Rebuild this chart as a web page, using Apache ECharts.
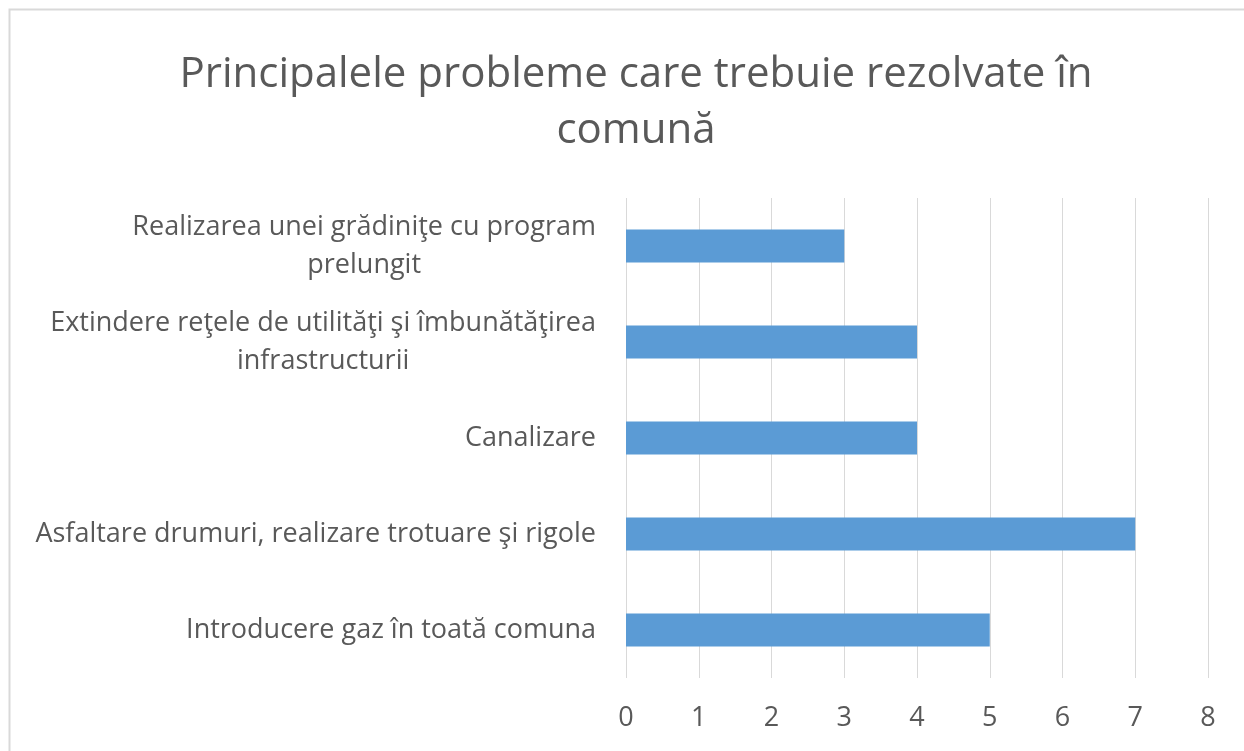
<!DOCTYPE html>
<html>
<head>
<meta charset="utf-8">
<script src="https://cdn.jsdelivr.net/npm/echarts@6/dist/echarts.min.js"></script>
<style>
  html, body { margin: 0; padding: 0; background: #fff; }
  #chart { width: 1244px; height: 751px; }
</style>
</head>
<body>
<div id="chart"></div>
<script>
// categories from bottom to top (as the axis draws them)
const categories = [
  'Introducere gaz în toată comuna',
  'Asfaltare drumuri, realizare trotuare şi rigole',
  'Canalizare',
  'Extindere reţele de utilităţi şi îmbunătăţirea\ninfrastructurii',
  'Realizarea unei grădiniţe cu program\nprelungit'
];
const values = [5, 7, 4, 4, 3];
const xTicks = [0, 1, 2, 3, 4, 5, 6, 7, 8];

const chart = echarts.init(document.getElementById('chart'));
const textColor = '#595959';
const fontFamily = '"Open Sans", "Noto Sans", sans-serif';

const option = {
  animation: false,
  graphic: [
    {
      type: 'rect',
      shape: { x: 9.5, y: 9.5, width: 1300, height: 800 },
      style: { fill: 'none', stroke: '#d9d9d9', lineWidth: 2 },
      silent: true
    }
  ],
  title: {
    text: 'Principalele probleme care trebuie rezolvate în\ncomună',
    left: 631,
    top: 42,
    textAlign: 'center',
    textStyle: {
      color: textColor,
      fontFamily: fontFamily,
      fontWeight: 'normal',
      fontSize: 42,
      lineHeight: 56
    }
  },
  grid: {
    left: 626,
    right: 36,
    top: 198,
    bottom: 73,
    containLabel: false
  },
  xAxis: {
    type: 'value',
    min: xTicks[0],
    max: xTicks[xTicks.length - 1],
    interval: 1,
    axisLine: { show: false },
    axisTick: { show: false },
    axisLabel: {
      color: textColor,
      fontFamily: fontFamily,
      fontSize: 27,
      margin: 27
    },
    splitLine: { lineStyle: { color: '#d9d9d9', width: 1 } }
  },
  yAxis: {
    type: 'category',
    data: categories,
    axisLine: { show: false },
    axisTick: { show: false },
    axisLabel: {
      margin: 30,
      formatter: function (v) {
        return v.split('\n').map(function (l) { return '{c|' + l + '}'; }).join('\n');
      },
      rich: {
        c: {
          align: 'center',
          color: textColor,
          fontFamily: fontFamily,
          fontSize: 27,
          lineHeight: 38
        }
      }
    }
  },
  series: [
    {
      type: 'bar',
      data: values,
      barWidth: 33,
      itemStyle: { color: '#5b9bd5' }
    }
  ]
};
chart.setOption(option);
</script>
</body>
</html>
